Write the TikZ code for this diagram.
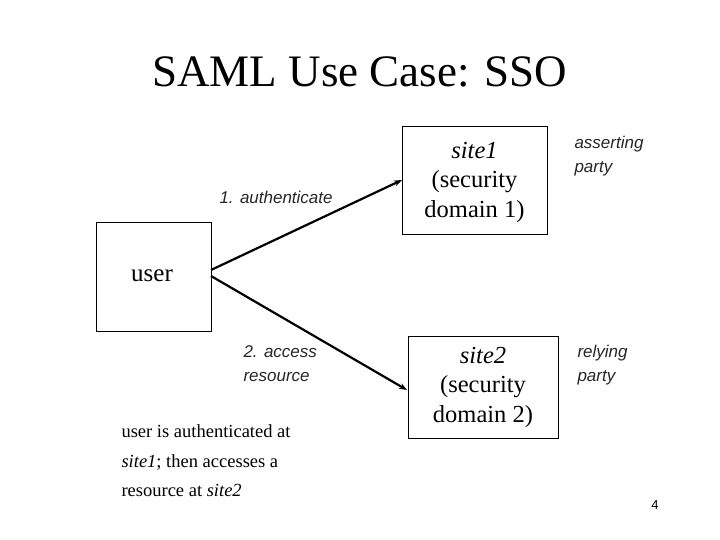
\documentclass[tikz,border=0pt]{standalone}
\usepackage{fontspec}
\usetikzlibrary{arrows.meta}
\setmainfont{Liberation Serif}
\newfontfamily\lblfont{Liberation Sans}
\begin{document}
\begin{tikzpicture}[x=1pt,y=-1pt,
  box/.style={draw,line width=0.8pt,inner sep=0pt},
  main/.style={font=\fontsize{24.5}{29.5}\selectfont,align=center},
  lbl/.style={font=\lblfont\itshape\fontsize{17}{24}\selectfont,text=black!85,align=left},
  arr/.style={-{Stealth[length=8pt,width=6pt]},line width=2.2pt}]
\useasboundingbox (0,0) rectangle (720,540);
\node[font=\fontsize{45}{50}\selectfont] (title) at (360,72) {SAML Use Case: SSO};
\node[box,minimum width=115pt,minimum height=109pt] (user) at (153.5,276.5) {};
\node[font=\fontsize{25}{28}\selectfont] (ut) at (152,276) {user};
\node[box,minimum width=145pt,minimum height=108pt] (s1) at (474.5,180) {};
\node[main] (s1t) at (474.5,182) {\textit{site1}\\(security\\domain 1)};
\node[box,minimum width=150pt,minimum height=102pt] (s2) at (483,387) {};
\node[main] (s2t) at (483,387) {\textit{site2}\\(security\\domain 2)};
\coordinate (u1) at (211,270);
\coordinate (u2) at (211,276);
\coordinate (e1) at (402,180);
\coordinate (e2) at (407,390);
\draw[arr] (u1) -- (e1);
\draw[arr] (u2) -- (e2);
\node[lbl,anchor=west] (l1) at (216,197) {1. authenticate};
\node[lbl,anchor=west] (l2) at (240,364) {2. access\\resource};
\node[lbl,anchor=west] (ap) at (571,156) {asserting\\party};
\node[lbl,anchor=west] (rp) at (574,365) {relying\\party};
\node[anchor=west,align=left,font=\fontsize{18.5}{29.5}\selectfont] (note) at (118,461) {user is authenticated at\\\textit{site1}; then accesses a\\resource at \textit{site2}};
\node[font=\lblfont\fontsize{13}{15}\selectfont] (pg) at (655,505) {4};
\end{tikzpicture}
\end{document}
